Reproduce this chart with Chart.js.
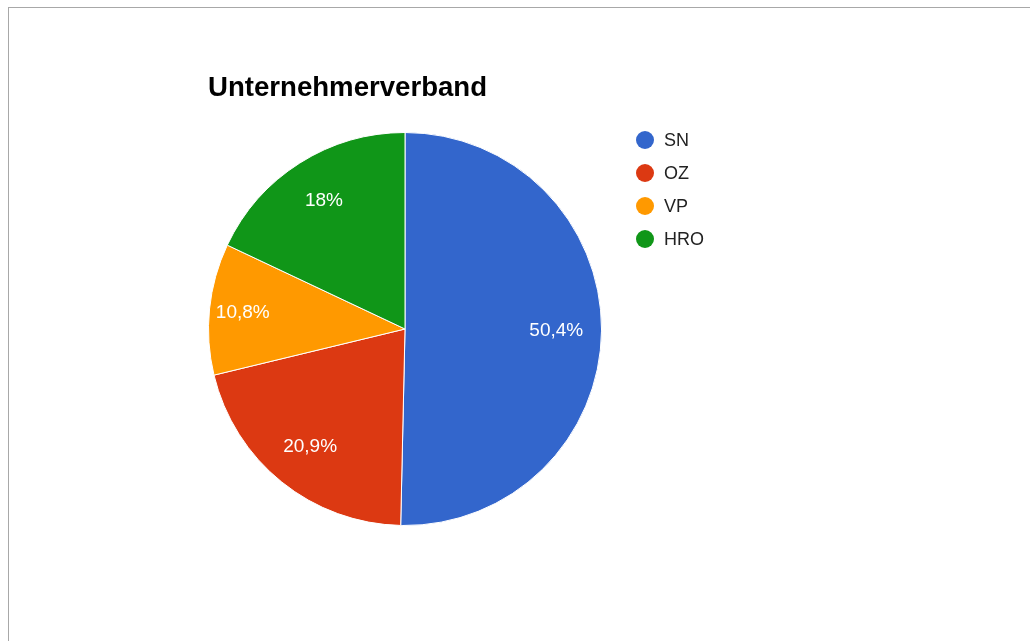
<!DOCTYPE html>
<html>
<head>
<meta charset="utf-8">
<script src="https://cdn.jsdelivr.net/npm/chart.js@4/dist/chart.umd.min.js"></script>
<style>
  html, body { margin: 0; padding: 0; background: #fff; }
  #frame { position: absolute; left: 8px; top: 7px; width: 1030px; height: 640px;
           border-top: 1px solid #a8a8a8; border-left: 1px solid #a8a8a8; }
  #wrap { position: absolute; left: 0; top: 0; width: 1030px; height: 641px; }
</style>
</head>
<body>
<div id="frame"></div>
<div id="wrap"><canvas id="pieChart"></canvas></div>
<script>
// Daten
const chartTitle = 'Unternehmerverband';
const categories = ['SN', 'OZ', 'VP', 'HRO'];
const values = [50.4, 20.9, 10.8, 18];
const valueLabels = ['50,4%', '20,9%', '10,8%', '18%'];
const colors = ['#3366CC', '#DC3912', '#FF9900', '#109618'];

// Titel, Legende und Prozentwerte selbst zeichnen (wie Google Charts)
const googleLook = {
  id: 'googleLook',
  afterDatasetsDraw(chart) {
    const ctx = chart.ctx;
    const meta = chart.getDatasetMeta(0);
    ctx.save();

    // Prozentwerte in den Segmenten (schmale Segmente etwas weiter aussen)
    ctx.fillStyle = '#fff';
    ctx.font = '19px "Liberation Sans", Arial, sans-serif';
    ctx.textAlign = 'center';
    ctx.textBaseline = 'middle';
    meta.data.forEach((arc, i) => {
      const p = arc.getProps(['x', 'y', 'startAngle', 'endAngle', 'outerRadius'], true);
      const mid = (p.startAngle + p.endAngle) / 2;
      const span = p.endAngle - p.startAngle;
      const r = p.outerRadius * (span < 0.8 ? 0.83 : 0.77);
      ctx.fillText(valueLabels[i], p.x + Math.cos(mid) * r, p.y + Math.sin(mid) * r);
    });

    // Titel
    ctx.fillStyle = '#000';
    ctx.font = 'bold 27.6px "Liberation Sans", Arial, sans-serif';
    ctx.textAlign = 'left';
    ctx.textBaseline = 'alphabetic';
    ctx.fillText(chartTitle, 208, 96);

    // Legende
    ctx.font = '18px "Liberation Sans", Arial, sans-serif';
    ctx.textBaseline = 'middle';
    categories.forEach((name, i) => {
      const y = 140 + i * 33;
      ctx.fillStyle = colors[i];
      ctx.beginPath();
      ctx.arc(645, y, 9, 0, Math.PI * 2);
      ctx.fill();
      ctx.fillStyle = '#222';
      ctx.fillText(name, 664, y + 1);
    });
    ctx.restore();
  }
};

new Chart(document.getElementById('pieChart'), {
  type: 'pie',
  data: {
    labels: categories,
    datasets: [{
      data: values,
      backgroundColor: colors,
      borderColor: '#fff',
      borderWidth: 1
    }]
  },
  options: {
    responsive: true,
    maintainAspectRatio: false,
    animation: false,
    layout: { padding: { left: 208, right: 428, top: 132, bottom: 115 } },
    plugins: {
      legend: { display: false },
      title: { display: false },
      tooltip: { enabled: false }
    }
  },
  plugins: [googleLook]
});
</script>
</body>
</html>
